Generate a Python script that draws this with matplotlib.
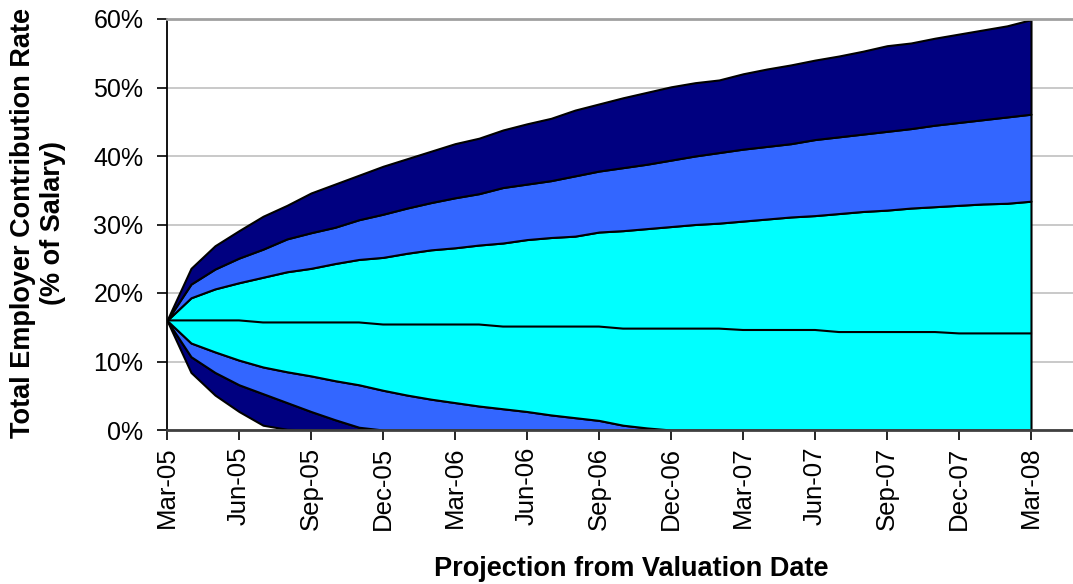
import matplotlib
matplotlib.use("Agg")
import matplotlib.pyplot as plt
import numpy as np

plt.rcParams['font.family'] = ['Liberation Sans', 'DejaVu Sans']

# monthly projection points, Mar-05 .. Mar-08 (37 points)
months = np.arange(37)
tick_labels = ["Mar-05", "Jun-05", "Sep-05", "Dec-05", "Mar-06", "Jun-06", "Sep-06",
               "Dec-06", "Mar-07", "Jun-07", "Sep-07", "Dec-07", "Mar-08"]

top = [16.0, 23.6, 26.9, 29.1, 31.2, 32.8, 34.6, 35.9, 37.2, 38.5, 39.6, 40.7, 41.8,
       42.6, 43.8, 44.7, 45.5, 46.7, 47.6, 48.5, 49.3, 50.1, 50.7, 51.1, 52.0, 52.7,
       53.3, 54.0, 54.6, 55.3, 56.1, 56.5, 57.2, 57.8, 58.4, 59.0, 59.9]
upper2 = [16.0, 21.3, 23.5, 25.1, 26.4, 27.9, 28.8, 29.6, 30.7, 31.5, 32.4, 33.2, 33.9,
          34.5, 35.4, 35.9, 36.4, 37.1, 37.8, 38.3, 38.8, 39.4, 40.0, 40.5, 41.0, 41.4,
          41.8, 42.4, 42.8, 43.2, 43.6, 44.0, 44.5, 44.9, 45.3, 45.7, 46.1]
upper1 = [16.0, 19.3, 20.6, 21.5, 22.3, 23.1, 23.6, 24.3, 24.9, 25.2, 25.8, 26.3, 26.6,
          27.0, 27.3, 27.8, 28.1, 28.3, 28.9, 29.1, 29.4, 29.7, 30.0, 30.2, 30.5, 30.8,
          31.1, 31.3, 31.6, 31.9, 32.1, 32.4, 32.6, 32.8, 33.0, 33.1, 33.4]
median = [16.0, 16.0, 16.0, 16.0, 15.7, 15.7, 15.7, 15.7, 15.7, 15.4, 15.4, 15.4, 15.4,
          15.4, 15.1, 15.1, 15.1, 15.1, 15.1, 14.8, 14.8, 14.8, 14.8, 14.8, 14.6, 14.6,
          14.6, 14.6, 14.3, 14.3, 14.3, 14.3, 14.3, 14.1, 14.1, 14.1, 14.1]
lower1 = [16.0, 12.7, 11.4, 10.2, 9.2, 8.5, 7.9, 7.2, 6.6, 5.8, 5.1, 4.5, 4.0,
          3.5, 3.1, 2.7, 2.2, 1.8, 1.4, 0.7, 0.3, 0.0, 0.0, 0.0, 0.0, 0.0,
          0.0, 0.0, 0.0, 0.0, 0.0, 0.0, 0.0, 0.0, 0.0, 0.0, 0.0]
lower2 = [16.0, 10.7, 8.4, 6.6, 5.3, 4.0, 2.7, 1.5, 0.4, 0.0, 0.0, 0.0, 0.0,
          0.0, 0.0, 0.0, 0.0, 0.0, 0.0, 0.0, 0.0, 0.0, 0.0, 0.0, 0.0, 0.0,
          0.0, 0.0, 0.0, 0.0, 0.0, 0.0, 0.0, 0.0, 0.0, 0.0, 0.0]
bottom = [16.0, 8.4, 5.1, 2.7, 0.7, 0.1, 0.0, 0.0, 0.0, 0.0, 0.0, 0.0, 0.0,
          0.0, 0.0, 0.0, 0.0, 0.0, 0.0, 0.0, 0.0, 0.0, 0.0, 0.0, 0.0, 0.0,
          0.0, 0.0, 0.0, 0.0, 0.0, 0.0, 0.0, 0.0, 0.0, 0.0, 0.0]

NAVY = "#000080"
BLUE = "#3366FF"
CYAN = "#00FFFF"

W, H = 1073, 584
fig = plt.figure(figsize=(W / 100, H / 100), dpi=100)
ax = fig.add_axes([167 / W, 1 - 430 / H, (1095 - 167) / W, (430 - 19) / H])

ax.set_ylim(0, 60)
ax.set_xlim(0, (1095 - 167) / 24)

ax.set_yticks(np.arange(0, 61, 10))
ax.yaxis.grid(True, color="#c0c0c0", linewidth=1.2, zorder=0)
ax.set_axisbelow(True)

bands = [(bottom, lower2, NAVY), (lower2, lower1, BLUE), (lower1, upper1, CYAN),
         (upper1, upper2, BLUE), (upper2, top, NAVY)]
for lo, hi, c in bands:
    ax.fill_between(months, lo, hi, facecolor=c, edgecolor="black", linewidth=1.5, zorder=2)
ax.plot(months, median, color="black", linewidth=1.5, zorder=3)

ax.set_xticks(months[::3])
ax.set_xticklabels(tick_labels, rotation=90)
ax.set_yticklabels([f"{v}%" for v in range(0, 61, 10)])

ax.tick_params(axis="y", direction="out", length=7, width=1.2, pad=10, labelsize=18)
ax.tick_params(axis="x", direction="out", length=7, width=1.2, pad=5, labelsize=18.5)

ax.spines["right"].set_visible(False)
ax.spines["top"].set_color("#a0a0a0")
ax.spines["top"].set_linewidth(2)
ax.spines["left"].set_color("black")
ax.spines["left"].set_linewidth(1.3)
ax.spines["bottom"].set_color("#404040")
ax.spines["bottom"].set_linewidth(2)

fig.text(631 / W, 1 - 569 / H, "Projection from Valuation Date", ha="center", va="center",
         fontsize=19.5, fontweight="bold")
fig.text(38 / W, 1 - 223 / H, "Total Employer Contribution Rate\n(% of Salary)", ha="center",
         va="center", rotation=90, fontsize=19.5, fontweight="bold", linespacing=1.15)

fig.savefig("out.png", dpi=100)
